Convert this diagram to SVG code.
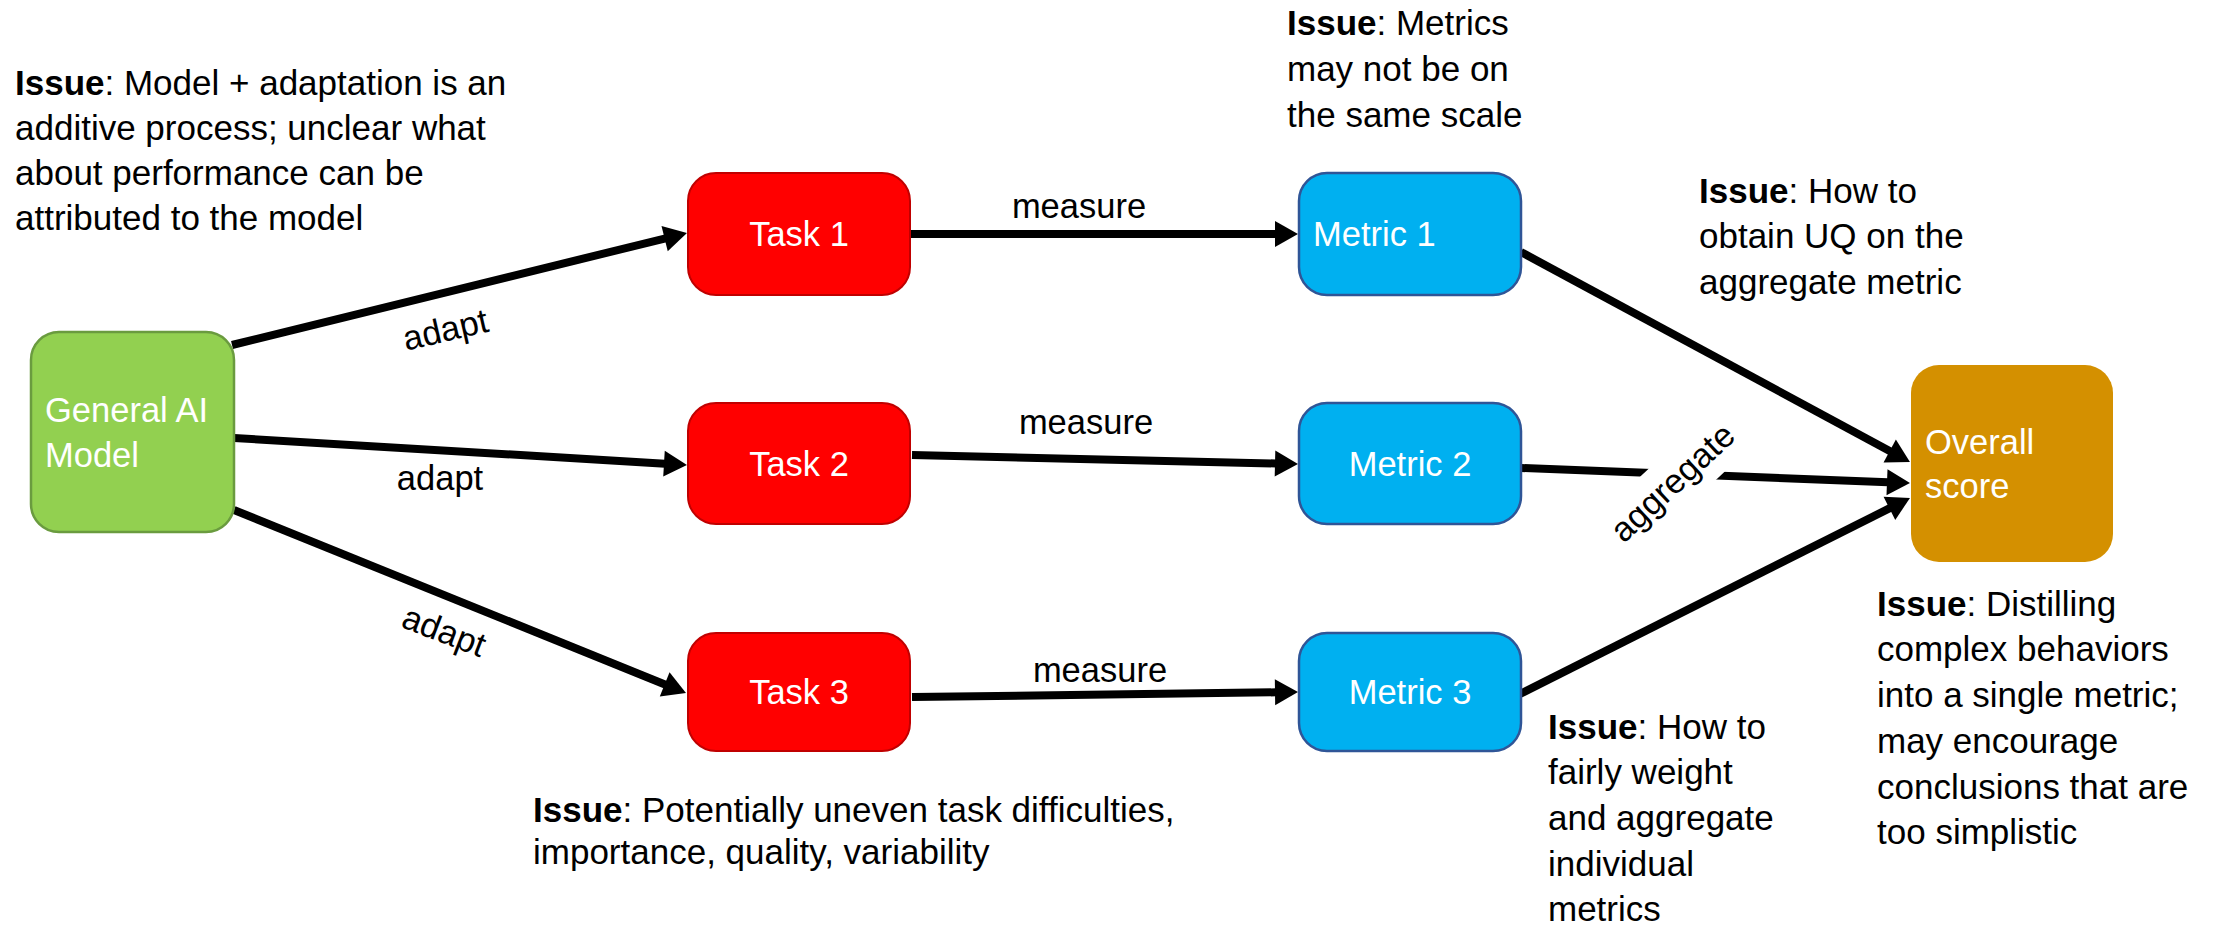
<svg xmlns="http://www.w3.org/2000/svg" width="2214" height="928" viewBox="0 0 2214 928">
<style>
  text { font-family: "Liberation Sans", Arial, sans-serif; font-size: 34.5px; fill: #000; }
  .issue text { font-size: 35px; }
  .b { font-weight: bold; }
  .w { fill: #fff; }
  .c { text-anchor: middle; }
  .edge { stroke: #000; stroke-width: 8; fill: none; marker-end: url(#arrow); }
  .task rect { fill: #FF0000; stroke: #C00000; stroke-width: 2; }
  .metric rect { fill: #00B0F0; stroke: #2F5597; stroke-width: 2.5; }
</style>
<defs>
  <marker id="arrow" markerUnits="userSpaceOnUse" markerWidth="30" markerHeight="30" viewBox="-2 -15 28 30" refX="1" refY="0" orient="auto">
    <path d="M0,-13 L23,0 L0,13 z" fill="#000"/>
  </marker>
</defs>
<rect width="2214" height="928" fill="#fff"/>

<g id="connectors">
  <line class="edge" x1="232" y1="345" x2="665.6" y2="238.3"/>
  <line class="edge" x1="234" y1="438" x2="665" y2="463.7"/>
  <line class="edge" x1="234" y1="510" x2="665.6" y2="684.7"/>
  <line class="edge" x1="910" y1="234" x2="1276" y2="234"/>
  <line class="edge" x1="912" y1="455" x2="1276" y2="463.5"/>
  <line class="edge" x1="912" y1="697" x2="1276" y2="692.3"/>
  <line class="edge" x1="1521" y1="252" x2="1890.6" y2="451.5"/>
  <line class="edge" x1="1521" y1="468" x2="1888" y2="482.2"/>
  <line class="edge" x1="1518" y1="695" x2="1890.3" y2="507.9"/>
  <text transform="translate(448,341) rotate(-13)" class="c">adapt</text>
  <text x="440" y="490" class="c">adapt</text>
  <text transform="translate(440,642) rotate(21)" class="c">adapt</text>
  <text x="1079" y="218" class="c">measure</text>
  <text x="1086" y="434" class="c">measure</text>
  <text x="1100" y="682" class="c">measure</text>
  <g transform="translate(1673,483) rotate(-43)">
    <rect x="-82" y="-27" width="164" height="54" fill="#fff"/>
    <text x="0" y="11" class="c">aggregate</text>
  </g>
</g>

<g id="general">
  <rect x="31" y="332" width="203" height="200" rx="28" fill="#92D050" stroke="#6A9B3F" stroke-width="2.5"/>
  <text x="45" y="422" class="w">General AI</text>
  <text x="45" y="467" class="w">Model</text>
</g>
<g id="task1" class="task">
  <rect x="688" y="173" width="222" height="122" rx="28"/>
  <text x="799" y="246" class="w c">Task 1</text>
</g>
<g id="task2" class="task">
  <rect x="688" y="403" width="222" height="121" rx="28"/>
  <text x="799" y="476" class="w c">Task 2</text>
</g>
<g id="task3" class="task">
  <rect x="688" y="633" width="222" height="118" rx="28"/>
  <text x="799" y="704" class="w c">Task 3</text>
</g>
<g id="metric1" class="metric">
  <rect x="1299" y="173" width="222" height="122" rx="28"/>
  <text x="1313" y="246" class="w">Metric 1</text>
</g>
<g id="metric2" class="metric">
  <rect x="1299" y="403" width="222" height="121" rx="28"/>
  <text x="1410" y="476" class="w c">Metric 2</text>
</g>
<g id="metric3" class="metric">
  <rect x="1299" y="633" width="222" height="118" rx="28"/>
  <text x="1410" y="704" class="w c">Metric 3</text>
</g>
<g id="overall">
  <rect x="1911" y="365" width="202" height="197" rx="28" fill="#D49000"/>
  <text x="1925" y="454" class="w">Overall</text>
  <text x="1925" y="498" class="w">score</text>
</g>

<g id="issue-model" class="issue">
  <text x="15" y="95"><tspan class="b">Issue</tspan>: Model + adaptation is an</text>
  <text x="15" y="140">additive process; unclear what</text>
  <text x="15" y="185">about performance can be</text>
  <text x="15" y="230">attributed to the model</text>
</g>
<g id="issue-scale" class="issue">
  <text x="1287" y="35"><tspan class="b">Issue</tspan>: Metrics</text>
  <text x="1287" y="81">may not be on</text>
  <text x="1287" y="127">the same scale</text>
</g>
<g id="issue-uq" class="issue">
  <text x="1699" y="203"><tspan class="b">Issue</tspan>: How to</text>
  <text x="1699" y="248">obtain UQ on the</text>
  <text x="1699" y="294">aggregate metric</text>
</g>
<g id="issue-distill" class="issue">
  <text x="1877" y="616"><tspan class="b">Issue</tspan>: Distilling</text>
  <text x="1877" y="661">complex behaviors</text>
  <text x="1877" y="707">into a single metric;</text>
  <text x="1877" y="753">may encourage</text>
  <text x="1877" y="799">conclusions that are</text>
  <text x="1877" y="844">too simplistic</text>
</g>
<g id="issue-weight" class="issue">
  <text x="1548" y="739"><tspan class="b">Issue</tspan>: How to</text>
  <text x="1548" y="784">fairly weight</text>
  <text x="1548" y="830">and aggregate</text>
  <text x="1548" y="876">individual</text>
  <text x="1548" y="921">metrics</text>
</g>
<g id="issue-task" class="issue">
  <text x="533" y="822"><tspan class="b">Issue</tspan>: Potentially uneven task difficulties,</text>
  <text x="533" y="864">importance, quality, variability</text>
</g>
</svg>
